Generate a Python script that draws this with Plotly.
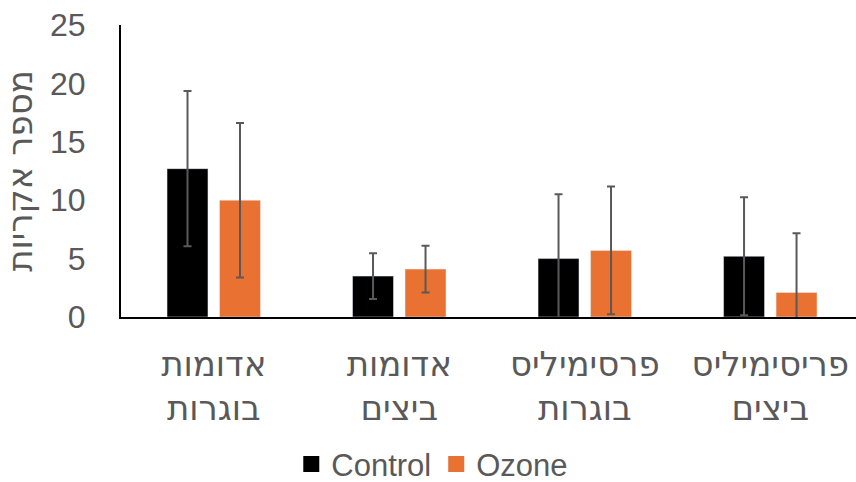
import plotly.graph_objects as go

categories = ["אדומות<br>בוגרות", "אדומות<br>ביצים", "פרסימיליס<br>בוגרות", "פריסימיליס<br>ביצים"]
control = [12.7, 3.5, 5.0, 5.2]
control_err = [6.65, 1.95, 5.5, 5.05]
ozone = [10.0, 4.1, 5.7, 2.1]
ozone_err = [6.62, 2.0, 5.47, 5.08]
y_ticks = [0, 5, 10, 15, 20, 25]
series_names = ["Control", "Ozone"]
series_colors = ["#000000", "#E97132"]

LAT = "Liberation Sans, Arial, sans-serif"
HEB = "DejaVu Sans, Liberation Sans, sans-serif"
GRAY = "#595959"

fig = go.Figure()
for name, vals, errs, col in zip(series_names, [control, ozone], [control_err, ozone_err], series_colors):
    fig.add_trace(go.Bar(
        name=name, x=categories, y=vals, marker_color=col, showlegend=False, legendgroup=name,
        error_y=dict(type="data", array=errs, visible=True, color=GRAY, thickness=2, width=4),
    ))
for name, col in zip(series_names, series_colors):
    fig.add_trace(go.Scatter(
        name=name, x=[None], y=[None], mode="markers", legendgroup=name,
        marker=dict(symbol="square", size=20, color=col),
    ))

fig.update_layout(
    width=856, height=482,
    margin=dict(l=121, r=0, t=25, b=165, autoexpand=False),
    paper_bgcolor="white", plot_bgcolor="white",
    barmode="group", bargap=0.434, bargroupgap=0.22,
    font=dict(family=LAT, color=GRAY, size=30),
    showlegend=True,
    legend=dict(orientation="h", xref="container", yref="paper", x=0.505, xanchor="center",
                y=-0.505, yanchor="middle", font=dict(size=31, color=GRAY, family=LAT),
                itemsizing="trace"),
    xaxis=dict(range=[-0.5, 3.462], showline=True, linecolor="#000000", linewidth=2,
               ticks="", tickfont=dict(size=34, color=GRAY, family=HEB), showgrid=False,
               automargin=False, ticklabelstandoff=16),
    yaxis=dict(range=[0, 25], tickvals=y_ticks, showline=True, linecolor="#000000", linewidth=2,
               showgrid=False, zeroline=False, ticks="", ticklabelstandoff=27, automargin=False,
               tickfont=dict(size=32, color=GRAY, family=LAT),
               title=dict(text="מספר אקריות", font=dict(size=34, color=GRAY, family=HEB), standoff=13)),
)

fig.write_html("out.html", config={"displayModeBar": False},
               post_script="document.body.style.margin='0';document.body.style.padding='0';")
